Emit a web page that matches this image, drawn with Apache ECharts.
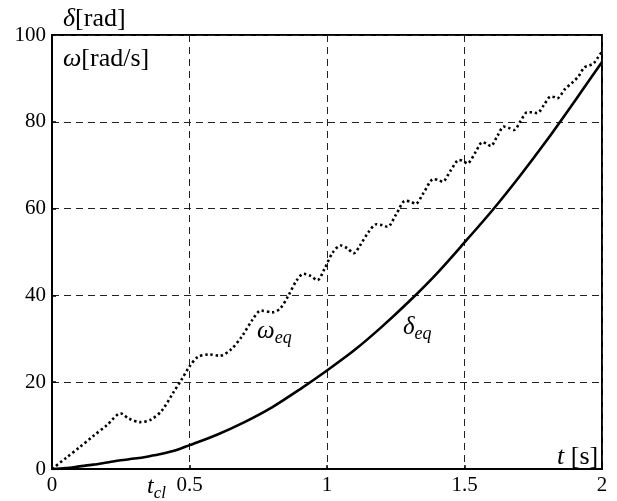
<!DOCTYPE html>
<html>
<head>
<meta charset="utf-8">
<script src="https://cdn.jsdelivr.net/npm/echarts@6/dist/echarts.min.js"></script>
<style>
    html, body { margin: 0; padding: 0; background: #fff; }
    #chart { width: 617px; height: 501px; }
</style>
</head>
<body>
<div id="chart"></div>
<script>
// 时间轴刻度
var xTicks = [0, 0.5, 1, 1.5, 2]
var yTicks = [0, 20, 40, 60, 80, 100]

// delta_eq [t, rad]
var deltaEq = [
    [0, 0], [0.05, 0.2], [0.1, 0.6], [0.15, 1.0], [0.2, 1.5], [0.25, 2.0],
    [0.3, 2.4], [0.35, 2.9], [0.4, 3.5], [0.45, 4.3], [0.5, 5.5], [0.6, 7.9],
    [0.7, 10.8], [0.8, 14.2], [0.9, 18.3], [1.0, 22.7], [1.1, 27.4], [1.2, 32.8],
    [1.3, 38.7], [1.4, 45.1], [1.5, 52.2], [1.6, 59.5], [1.7, 67.4], [1.8, 75.8],
    [1.9, 84.7], [2.0, 93.8]
]

// omega_eq [t, rad/s]
var omegaEq = [
    [0, 0], [0.05, 2.5], [0.1, 5], [0.15, 7.6], [0.2, 10.1], [0.25, 12.8],
    [0.28, 11.6], [0.32, 10.8], [0.36, 11.4], [0.4, 13.5], [0.44, 17.5],
    [0.47, 20.5], [0.5, 23.6], [0.53, 25.8], [0.57, 26.4], [0.61, 26.1],
    [0.65, 27.5], [0.69, 30.5], [0.73, 34.5], [0.76, 36.5], [0.8, 36.1],
    [0.83, 37], [0.86, 40], [0.89, 43.5], [0.915, 45], [0.94, 44.5],
    [0.965, 43.5], [0.99, 46], [1.02, 49.8], [1.05, 51.5], [1.075, 50.8],
    [1.097, 49.7], [1.12, 51.5], [1.15, 54.5], [1.18, 56.4], [1.2, 56.2],
    [1.22, 55.8], [1.25, 58.5], [1.285, 61.8], [1.305, 61.6], [1.322, 61.1],
    [1.35, 63.5], [1.388, 66.8], [1.405, 66.6], [1.42, 66.2], [1.45, 68.8],
    [1.48, 71.2], [1.495, 71], [1.51, 70.4], [1.54, 73], [1.565, 75.3],
    [1.58, 75], [1.595, 74.4], [1.62, 76.8], [1.643, 78.9], [1.66, 78.6],
    [1.68, 78.1], [1.705, 80.3], [1.728, 82.2], [1.745, 82.2], [1.764, 82.0],
    [1.79, 84], [1.813, 85.8], [1.825, 85.7], [1.837, 85.4], [1.865, 87.5],
    [1.895, 89.2], [1.915, 90.5], [1.935, 92.5], [1.955, 93], [1.97, 93.5],
    [1.985, 94.8], [2, 96.2]
]

var FONT = '"Liberation Serif", "DejaVu Serif", serif'

var chart = echarts.init(document.getElementById('chart'))

var gridDash = { color: '#222', width: 1, type: [7, 5] }

var option = {
    animation: false,
    backgroundColor: '#fff',
    grid: {
        left: 52, top: 35, right: 15, bottom: 32,
        show: true, borderColor: '#000', borderWidth: 2
    },
    xAxis: {
        type: 'value',
        min: xTicks[0], max: xTicks[xTicks.length - 1], interval: 0.5,
        axisLine: { show: true, lineStyle: { color: '#000', width: 2 } },
        axisTick: { show: true, inside: true, length: 4, lineStyle: { color: '#000', width: 1.5 } },
        axisLabel: { color: '#000', fontFamily: FONT, fontSize: 21, margin: 6 },
        splitLine: { show: true, lineStyle: gridDash }
    },
    yAxis: {
        type: 'value',
        min: yTicks[0], max: yTicks[yTicks.length - 1], interval: 20,
        axisLine: { show: true, lineStyle: { color: '#000', width: 2 } },
        axisTick: { show: true, inside: true, length: 4, lineStyle: { color: '#000', width: 1.5 } },
        axisLabel: { color: '#000', fontFamily: FONT, fontSize: 21, margin: 6 },
        splitLine: { show: true, lineStyle: gridDash }
    },
    series: [
        {
            name: 'omega_eq',
            type: 'line',
            data: omegaEq,
            showSymbol: false,
            smooth: 0.3,
            lineStyle: { color: '#000', width: 2.6, type: [2.4, 2.8] },
            z: 3
        },
        {
            name: 'delta_eq',
            type: 'line',
            data: deltaEq,
            showSymbol: false,
            smooth: 0.3,
            lineStyle: { color: '#000', width: 2.6 },
            z: 4
        }
    ],
    graphic: [
        label(63, 19, '{i|δ}[rad]', 26),
        label(63, 59, '{i|ω}[rad/s]', 26),
        label(557, 457, '{i|t} [s]', 26),
        label(257, 331, '{i|ω}{s|eq}', 25),
        label(403, 327, '{i|δ}{s|eq}', 25),
        label(147, 487, '{i|t}{s|cl}', 24)
    ]
}

// 文本标注
function label (x, y, text, size) {
    return {
        type: 'text',
        x: x, y: y,
        z: 10,
        style: {
            text: text,
            fill: '#000',
            font: size + 'px ' + FONT,
            verticalAlign: 'middle',
            rich: {
                i: { fontFamily: FONT, fontSize: size, fontStyle: 'italic', fill: '#000' },
                s: { fontFamily: FONT, fontSize: Math.round(size * 0.72), fontStyle: 'italic', fill: '#000', padding: [14, 0, 0, 0] }
            }
        }
    }
}

chart.setOption(option)
</script>
</body>
</html>
